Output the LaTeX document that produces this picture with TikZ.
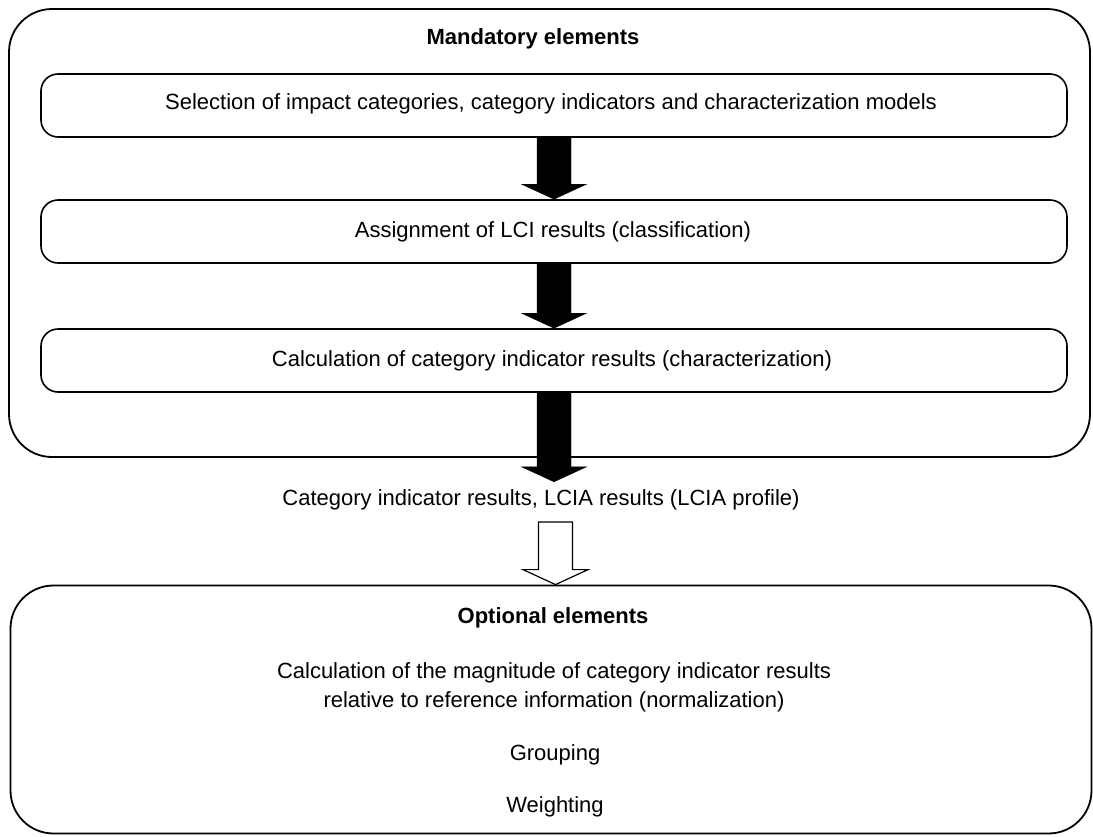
\documentclass[tikz,border=0pt]{standalone}
\usepackage{fontspec}
\setmainfont{Liberation Sans}
\usetikzlibrary{calc}
% block arrow from the bottom of #2 down to the point #3
\newcommand{\blockarrow}[3]{%
  \draw[#1] ($(#2)+(-17,0)$) -- ($(#3)+(-17,-15)$) -- ($(#3)+(-32.5,-15)$) -- (#3)
    -- ($(#3)+(32.5,-15)$) -- ($(#3)+(17,-15)$) -- ($(#2)+(17,0)$) -- cycle;}
\begin{document}
\begin{tikzpicture}[x=1pt,y=-1pt,
  frame/.style={draw=black, line width=1.8pt, rounded corners=43pt, minimum width=1081pt},
  stepbox/.style={draw=black, line width=1.6pt, rounded corners=17pt,
    minimum width=1026pt, minimum height=63pt},
  lbl/.style={font=\fontsize{22}{29}\selectfont, inner sep=0pt, align=center},
  ttl/.style={font=\fontsize{22}{26}\selectfont\bfseries, inner sep=0pt}]
\useasboundingbox (0,0) rectangle (1093,836);

% mandatory part
\node[frame, minimum height=448pt] (mand) at (549.5,233) {};
\node[ttl] (mandt) at (533,39) {Mandatory elements};
\node[stepbox] (s1) at (554,105.5) {};
\node[stepbox] (s2) at (554,231.5) {};
\node[stepbox] (s3) at (554,360.5) {};
\node[lbl] at (551,104) {Selection of impact categories, category indicators and characterization models};
\node[lbl] at (553,232) {Assignment of LCI results (classification)};
\node[lbl] at (552,361) {Calculation of category indicator results (characterization)};

\blockarrow{fill=black}{s1.south}{s2.north}
\blockarrow{fill=black}{s2.south}{s3.north}
\coordinate (r3) at ($(s3.south)+(0,89)$);
\blockarrow{fill=black}{s3.south}{r3}

\node[lbl] (res) at (541,500) {Category indicator results, LCIA results (LCIA profile)};

% optional part
\node[frame, minimum height=248pt] (opt) at (551,709.5) {};
\coordinate (o0) at (555.5,522);
\coordinate (o1) at (o0 |- opt.north);
\blockarrow{draw=black, line width=1.2pt, fill=white}{o0}{o1}

\node[ttl] at (553,618) {Optional elements};
\node[lbl] at (554,687) {Calculation of the magnitude of category indicator results\\relative to reference information (normalization)};
\node[lbl] at (555,755) {Grouping};
\node[lbl] at (555,807) {Weighting};
\end{tikzpicture}
\end{document}
